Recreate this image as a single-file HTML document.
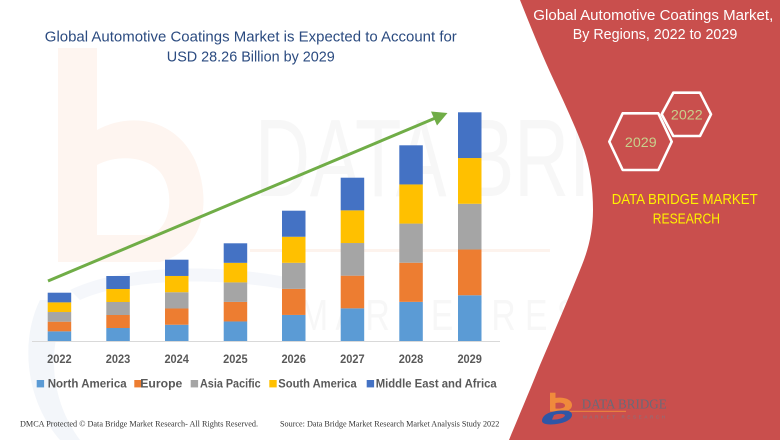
<!DOCTYPE html>
<html>
<head>
<meta charset="utf-8">
<style>
  html,body{margin:0;padding:0;background:#ffffff;}
  svg{display:block;}
</style>
</head>
<body>
<svg width="780" height="440" viewBox="0 0 780 440" xmlns="http://www.w3.org/2000/svg">
  <rect x="0" y="0" width="780" height="440" fill="#ffffff"/>

  <!-- faint watermark -->
  <g opacity="1">
    <path d="M58,48 L97,48 L97,130 C130,112 175,118 195,160 C212,200 205,250 160,262 L58,262 Z M97,165 L97,235 L150,235 C172,228 175,190 160,172 C145,155 115,155 97,165 Z" fill="#FEF5F0" fill-rule="evenodd"/>
    <path d="M40,300 C20,340 25,400 60,440 L80,440 C50,400 45,345 70,300 Z" fill="#F3F6FA"/>
    <path d="M70,290 C120,265 220,262 300,280 L300,292 C220,276 130,278 80,300 Z" fill="#F5F7FB"/>
    <text x="255" y="196" font-family="Liberation Sans, sans-serif" font-size="110" fill="#F7F7F7" textLength="500" lengthAdjust="spacingAndGlyphs">DATA BRIDGE</text>
    <rect x="250" y="249" width="300" height="3" fill="#FDF3ED"/>
    <text x="300" y="330" font-family="Liberation Sans, sans-serif" font-size="44" fill="#F7F7F7" textLength="440" lengthAdjust="spacingAndGlyphs">M A R K E T  R E S E A R C H</text>
  </g>

  <!-- Title -->
  <text x="250.8" y="41.7" text-anchor="middle" font-family="Liberation Sans, sans-serif" font-size="15" fill="#2B4B80" textLength="412" lengthAdjust="spacingAndGlyphs">Global Automotive Coatings Market is Expected to Account for</text>
  <text x="250.8" y="61.5" text-anchor="middle" font-family="Liberation Sans, sans-serif" font-size="15" fill="#2B4B80" textLength="168" lengthAdjust="spacingAndGlyphs">USD 28.26 Billion by 2029</text>

  <!-- axis line -->
  <line x1="32" y1="341.5" x2="500" y2="341.5" stroke="#D9D9D9" stroke-width="1"/>

  <!-- bars -->
  <g>
    <rect x="47.7" y="331.34" width="23.5" height="9.66" fill="#5B9BD5"/>
    <rect x="47.7" y="321.68" width="23.5" height="9.66" fill="#ED7D31"/>
    <rect x="47.7" y="312.02" width="23.5" height="9.66" fill="#A5A5A5"/>
    <rect x="47.7" y="302.36" width="23.5" height="9.66" fill="#FFC000"/>
    <rect x="47.7" y="292.7" width="23.5" height="9.66" fill="#4472C4"/>

    <rect x="106.3" y="328" width="23.5" height="13" fill="#5B9BD5"/>
    <rect x="106.3" y="315" width="23.5" height="13" fill="#ED7D31"/>
    <rect x="106.3" y="302" width="23.5" height="13" fill="#A5A5A5"/>
    <rect x="106.3" y="289" width="23.5" height="13" fill="#FFC000"/>
    <rect x="106.3" y="276" width="23.5" height="13" fill="#4472C4"/>

    <rect x="165" y="324.74" width="23.5" height="16.26" fill="#5B9BD5"/>
    <rect x="165" y="308.48" width="23.5" height="16.26" fill="#ED7D31"/>
    <rect x="165" y="292.22" width="23.5" height="16.26" fill="#A5A5A5"/>
    <rect x="165" y="275.96" width="23.5" height="16.26" fill="#FFC000"/>
    <rect x="165" y="259.7" width="23.5" height="16.26" fill="#4472C4"/>

    <rect x="223.7" y="321.46" width="23.5" height="19.54" fill="#5B9BD5"/>
    <rect x="223.7" y="301.92" width="23.5" height="19.54" fill="#ED7D31"/>
    <rect x="223.7" y="282.38" width="23.5" height="19.54" fill="#A5A5A5"/>
    <rect x="223.7" y="262.84" width="23.5" height="19.54" fill="#FFC000"/>
    <rect x="223.7" y="243.3" width="23.5" height="19.54" fill="#4472C4"/>

    <rect x="282" y="314.94" width="23.5" height="26.06" fill="#5B9BD5"/>
    <rect x="282" y="288.88" width="23.5" height="26.06" fill="#ED7D31"/>
    <rect x="282" y="262.82" width="23.5" height="26.06" fill="#A5A5A5"/>
    <rect x="282" y="236.76" width="23.5" height="26.06" fill="#FFC000"/>
    <rect x="282" y="210.7" width="23.5" height="26.06" fill="#4472C4"/>

    <rect x="340.7" y="308.34" width="23.5" height="32.66" fill="#5B9BD5"/>
    <rect x="340.7" y="275.68" width="23.5" height="32.66" fill="#ED7D31"/>
    <rect x="340.7" y="243.02" width="23.5" height="32.66" fill="#A5A5A5"/>
    <rect x="340.7" y="210.36" width="23.5" height="32.66" fill="#FFC000"/>
    <rect x="340.7" y="177.7" width="23.5" height="32.66" fill="#4472C4"/>

    <rect x="399.3" y="301.86" width="23.5" height="39.14" fill="#5B9BD5"/>
    <rect x="399.3" y="262.72" width="23.5" height="39.14" fill="#ED7D31"/>
    <rect x="399.3" y="223.58" width="23.5" height="39.14" fill="#A5A5A5"/>
    <rect x="399.3" y="184.44" width="23.5" height="39.14" fill="#FFC000"/>
    <rect x="399.3" y="145.3" width="23.5" height="39.14" fill="#4472C4"/>

    <rect x="458" y="295.26" width="23.5" height="45.74" fill="#5B9BD5"/>
    <rect x="458" y="249.52" width="23.5" height="45.74" fill="#ED7D31"/>
    <rect x="458" y="203.78" width="23.5" height="45.74" fill="#A5A5A5"/>
    <rect x="458" y="158.04" width="23.5" height="45.74" fill="#FFC000"/>
    <rect x="458" y="112.3" width="23.5" height="45.74" fill="#4472C4"/>
  </g>

  <!-- green arrow -->
  <line x1="48" y1="281" x2="434.5" y2="118.4" stroke="#70AD47" stroke-width="3"/>
  <polygon points="447.5,113 437,125.5 431,111.5" fill="#70AD47"/>

  <!-- year labels -->
  <g font-family="Liberation Sans, sans-serif" font-size="12" font-weight="bold" fill="#595959" text-anchor="middle">
    <text x="59.4" y="362.8" textLength="24.5" lengthAdjust="spacingAndGlyphs">2022</text>
    <text x="118" y="362.8" textLength="24.5" lengthAdjust="spacingAndGlyphs">2023</text>
    <text x="176.7" y="362.8" textLength="24.5" lengthAdjust="spacingAndGlyphs">2024</text>
    <text x="235.4" y="362.8" textLength="24.5" lengthAdjust="spacingAndGlyphs">2025</text>
    <text x="293.7" y="362.8" textLength="24.5" lengthAdjust="spacingAndGlyphs">2026</text>
    <text x="352.4" y="362.8" textLength="24.5" lengthAdjust="spacingAndGlyphs">2027</text>
    <text x="411" y="362.8" textLength="24.5" lengthAdjust="spacingAndGlyphs">2028</text>
    <text x="469.7" y="362.8" textLength="24.5" lengthAdjust="spacingAndGlyphs">2029</text>
  </g>

  <!-- legend -->
  <g font-family="Liberation Sans, sans-serif" font-size="12" font-weight="bold" fill="#595959">
    <rect x="36.7" y="380" width="7.4" height="7.4" fill="#5B9BD5"/>
    <text x="47.7" y="387.6" textLength="79" lengthAdjust="spacingAndGlyphs">North America</text>
    <rect x="134.3" y="380" width="7.4" height="7.4" fill="#ED7D31"/>
    <text x="140.3" y="387.6" textLength="42" lengthAdjust="spacingAndGlyphs">Europe</text>
    <rect x="190.7" y="380" width="7.4" height="7.4" fill="#A5A5A5"/>
    <text x="200" y="387.6" textLength="60.7" lengthAdjust="spacingAndGlyphs">Asia Pacific</text>
    <rect x="269.3" y="380" width="7.4" height="7.4" fill="#FFC000"/>
    <text x="278.3" y="387.6" textLength="78.4" lengthAdjust="spacingAndGlyphs">South America</text>
    <rect x="366.7" y="380" width="7.4" height="7.4" fill="#4472C4"/>
    <text x="375.7" y="387.6" textLength="121" lengthAdjust="spacingAndGlyphs">Middle East and Africa</text>
  </g>

  <!-- footer -->
  <g font-family="Liberation Serif, serif" font-size="8.5" fill="#333333">
    <text x="20" y="426.7" textLength="238" lengthAdjust="spacingAndGlyphs">DMCA Protected © Data Bridge Market Research- All Rights Reserved.</text>
    <text x="280" y="426.7" textLength="219.3" lengthAdjust="spacingAndGlyphs">Source: Data Bridge Market Research Market Analysis Study 2022</text>
  </g>

  <!-- red panel -->
  <path d="M520,0 C530,25 540,50 550,72 C562,98 575,125 584,150 C590,168 593,188 593,210 C593,232 588,250 582,265 C570,295 555,330 540,365 C530,390 518,418 509,440 L780,440 L780,0 Z" fill="#C94F4D"/>

  <!-- right title -->
  <g font-family="Liberation Sans, sans-serif" font-size="15" fill="#ffffff" text-anchor="middle">
    <text x="653.3" y="20" textLength="240" lengthAdjust="spacingAndGlyphs">Global Automotive Coatings Market,</text>
    <text x="655" y="39" textLength="164.6" lengthAdjust="spacingAndGlyphs">By Regions, 2022 to 2029</text>
  </g>

  <!-- hexagons -->
  <g fill="none" stroke="#ffffff" stroke-width="2.6" stroke-linejoin="round">
    <polygon points="609.3,141.7 622.7,113.3 658.3,113.3 671.7,141.7 658.3,170 622.7,170"/>
    <polygon points="661.7,114.3 673.3,92.7 700,92.7 711,114.3 700,136 673.3,136"/>
  </g>
  <g font-family="Liberation Sans, sans-serif" font-size="14" fill="#C8D08C" text-anchor="middle">
    <text x="640.8" y="147" textLength="31.7" lengthAdjust="spacingAndGlyphs">2029</text>
    <text x="686.8" y="119.3" textLength="31.7" lengthAdjust="spacingAndGlyphs">2022</text>
  </g>

  <!-- DBMR text -->
  <g font-family="Liberation Sans, sans-serif" font-size="15" fill="#FFF100" text-anchor="middle">
    <text x="684.7" y="204" textLength="146" lengthAdjust="spacingAndGlyphs">DATA BRIDGE MARKET</text>
    <text x="686.4" y="223.3" textLength="67.3" lengthAdjust="spacingAndGlyphs">RESEARCH</text>
  </g>

  <!-- logo -->
  <g>
    <rect x="550" y="392.7" width="5.5" height="16" fill="#F08A3C"/>
    <path d="M550,411.5 L550,399 C560,396 572,398 572,405 C572,410 566,412 560,412 Z M555.5,403 L555.5,408.5 C561,409 565,408 565,405.5 C565,403 560,402 555.5,403 Z" fill="#F08A3C" fill-rule="evenodd"/>
    <rect x="560" y="410.8" width="66" height="1" fill="#F08A3C"/>
    <path d="M542,421 C542,414 552,410 566,410.5 C574,411 574,418 566,421.5 C558,425 542,426 542,421 Z M552,419.5 C556,420 564,418.5 565,415.5 C565,413.5 558,413.5 554,415 Z" fill="#2F56A6" fill-rule="evenodd"/>
    <text x="581.7" y="408.3" font-family="Liberation Serif, serif" font-size="14" fill="#6A6A78" textLength="85" lengthAdjust="spacingAndGlyphs">DATA BRIDGE</text>
    <text x="583" y="418.3" font-family="Liberation Sans, sans-serif" font-size="4.5" fill="#7A7A86" textLength="82" lengthAdjust="spacing">MARKET  RESEARCH</text>
  </g>
</svg>
</body>
</html>
